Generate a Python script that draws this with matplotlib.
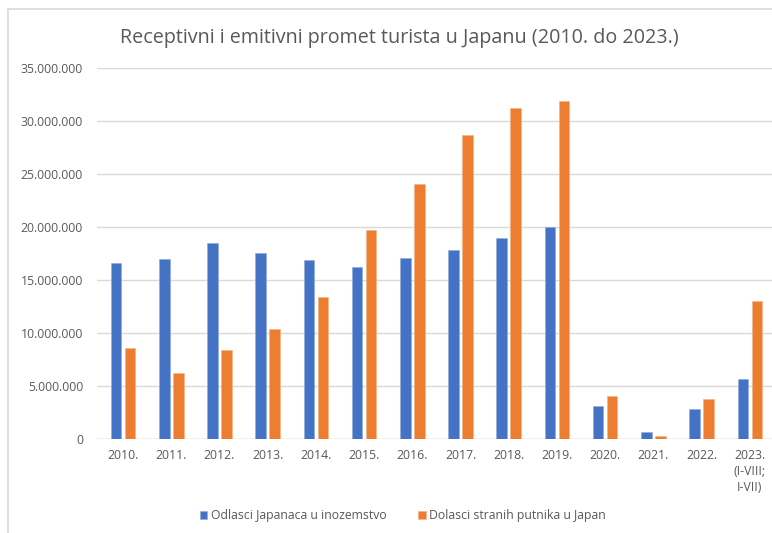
import matplotlib.pyplot as plt
import matplotlib.patches as mpatches
from matplotlib.ticker import FuncFormatter
import numpy as np

years = ['2010.', '2011.', '2012.', '2013.', '2014.', '2015.', '2016.',
         '2017.', '2018.', '2019.', '2020.', '2021.', '2022.',
         '2023.\n(I-VIII;\nI-VII)']
# milijuni
odlasci_japanaca = [16.6, 17.0, 18.5, 17.5, 16.9, 16.2, 17.1,
                    17.8, 18.9, 20.0, 3.15, 0.62, 2.81, 5.7]
dolasci_stranih = [8.6, 6.2, 8.35, 10.4, 13.4, 19.7, 24.0,
                   28.7, 31.2, 31.9, 4.1, 0.25, 3.8, 13.0]

blue = '#4472C4'
orange = '#ED7D31'
grey_txt = '#595959'
plt.rcParams['font.family'] = ['Open Sans', 'DejaVu Sans']

fig = plt.figure(figsize=(7.72, 5.33), dpi=100)
fig.patches.append(mpatches.Rectangle((8 / 772, -0.1), 1.2, 1 - 9 / 533 + 0.1,
                                      transform=fig.transFigure, fill=False,
                                      edgecolor='#D9D9D9', linewidth=1.2))
ax = fig.add_axes([97 / 772, 1 - 439 / 533, 675 / 772, (439 - 67.7) / 533])

x = np.arange(len(years))
w = 0.22
off = 0.145
vals_b = np.array(odlasci_japanaca) * 1e6
vals_o = np.array(dolasci_stranih) * 1e6
ax.bar(x - off, vals_b, w, color=blue, edgecolor='#8FAADC', linewidth=0.4,
       label='Odlasci Japanaca u inozemstvo', zorder=3)
ax.bar(x + off, vals_o, w, color=orange, edgecolor='#F4B183', linewidth=0.4,
       label='Dolasci stranih putnika u Japan', zorder=3)

ax.set_xlim(-0.54, 13.46)
ax.set_ylim(0, 35e6)
ax.set_yticks(np.arange(0, 35e6 + 1, 5e6))
ax.yaxis.set_major_formatter(FuncFormatter(
    lambda v, p: '0' if v == 0 else f'{int(v):,}'.replace(',', '.')))
ax.set_xticks(x)
ax.set_xticklabels(years, linespacing=1.3)
ax.tick_params(axis='both', length=0, colors=grey_txt, labelsize=8.8)
ax.tick_params(axis='y', pad=10)
ax.tick_params(axis='x', pad=7)
ax.grid(axis='y', color='#D9D9D9', linewidth=1, zorder=0)
for s in ax.spines.values():
    s.set_visible(False)
ax.axhline(0, color='#D9D9D9', linewidth=1, zorder=1)

fig.text(399 / 772, 1 - 38 / 533, 'Receptivni i emitivni promet turista u Japanu (2010. do 2023.)',
         ha='center', va='center', fontsize=14.2, color=grey_txt)

fig.legend(loc='center', bbox_to_anchor=(403 / 772, 1 - 516 / 533), ncol=2,
           frameon=False, fontsize=8.8, handlelength=0.6, handleheight=0.6,
           handletextpad=0.3, columnspacing=2.6, labelcolor=grey_txt)

fig.savefig('out.png', dpi=100)
